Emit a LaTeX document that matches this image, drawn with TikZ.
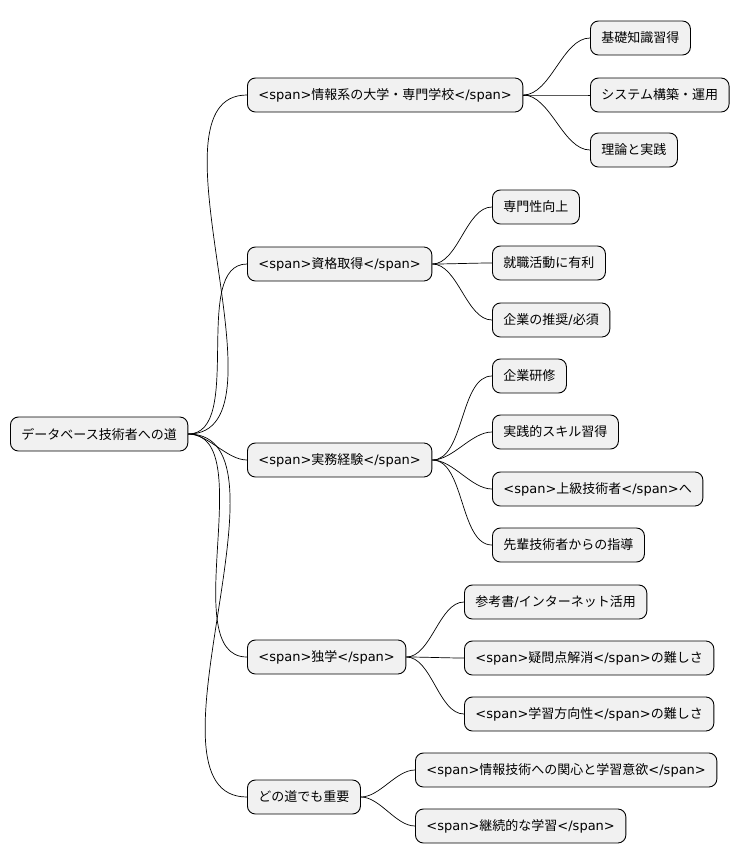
\documentclass[tikz,border=0pt]{standalone}
\usepackage{fontspec}
\setmainfont{DejaVu Sans}
\newfontfamily\cjk{Noto Sans CJK JP}
\XeTeXinterchartokenstate=1
\newXeTeXintercharclass\cjkclass
\newcount\cjkcode
\def\setcjkrange#1#2{\cjkcode=#1\relax
  \loop\XeTeXcharclass\cjkcode=\cjkclass
  \ifnum\cjkcode<#2\advance\cjkcode by 1\repeat}
\setcjkrange{"3000}{"30FF}
\setcjkrange{"4E00}{"9FFF}
\setcjkrange{"FF00}{"FFEF}
\XeTeXinterchartoks 0 \cjkclass = {\begingroup\cjk}
\XeTeXinterchartoks 4095 \cjkclass = {\begingroup\cjk}
\XeTeXinterchartoks \cjkclass 0 = {\endgroup}
\XeTeXinterchartoks \cjkclass 4095 = {\endgroup}
\usetikzlibrary{positioning}
\definecolor{boxgray}{HTML}{F1F1F1}
\tikzset{
  topic/.style={draw=black,fill=boxgray,rounded corners=8pt,line width=0.9pt,
    minimum height=34pt,inner xsep=11pt,anchor=west,font=\fontsize{13}{15}\selectfont},
  branch/.style={line width=0.7pt,out=0,in=180,looseness=0.8}
}
\begin{document}
\begin{tikzpicture}[x=1pt,y=-1pt]
\useasboundingbox (0,0) rectangle (747,865);
% root
\node[topic] (road) at (10,434) {データベース技術者への道};
% first level
\node[topic] (univ) at (247,95) {<span>情報系の大学・専門学校</span>};
\node[topic] (cert) at (247,264) {<span>資格取得</span>};
\node[topic] (work) at (247,460) {<span>実務経験</span>};
\node[topic] (self) at (247,657) {<span>独学</span>};
\node[topic] (all) at (247,797) {どの道でも重要};
% second level
\node[topic] (univa) at (590,38) {基礎知識習得};
\node[topic] (univb) at (590,95) {システム構築・運用};
\node[topic] (univc) at (590,150) {理論と実践};
\node[topic] (certa) at (492,207) {専門性向上};
\node[topic] (certb) at (492,263) {就職活動に有利};
\node[topic] (certc) at (492,320) {企業の推奨/必須};
\node[topic] (worka) at (492,376) {企業研修};
\node[topic] (workb) at (492,432) {実践的スキル習得};
\node[topic] (workc) at (492,489) {<span>上級技術者</span>へ};
\node[topic] (workd) at (492,545) {先輩技術者からの指導};
\node[topic] (selfa) at (464,602) {参考書/インターネット活用};
\node[topic] (selfb) at (464,658) {<span>疑問点解消</span>の難しさ};
\node[topic] (selfc) at (464,714) {<span>学習方向性</span>の難しさ};
\node[topic] (alla) at (415,770) {<span>情報技術への関心と学習意欲</span>};
\node[topic] (allb) at (415,826) {<span>継続的な学習</span>};
% connectors
\foreach \c in {univ,cert,work,self,all}
  \draw[branch] (road.east) to (\c.west);
\foreach \c in {univa,univb,univc}
  \draw[branch] (univ.east) to (\c.west);
\foreach \c in {certa,certb,certc}
  \draw[branch] (cert.east) to (\c.west);
\foreach \c in {worka,workb,workc,workd}
  \draw[branch] (work.east) to (\c.west);
\foreach \c in {selfa,selfb,selfc}
  \draw[branch] (self.east) to (\c.west);
\foreach \c in {alla,allb}
  \draw[branch] (all.east) to (\c.west);
\end{tikzpicture}
\end{document}
